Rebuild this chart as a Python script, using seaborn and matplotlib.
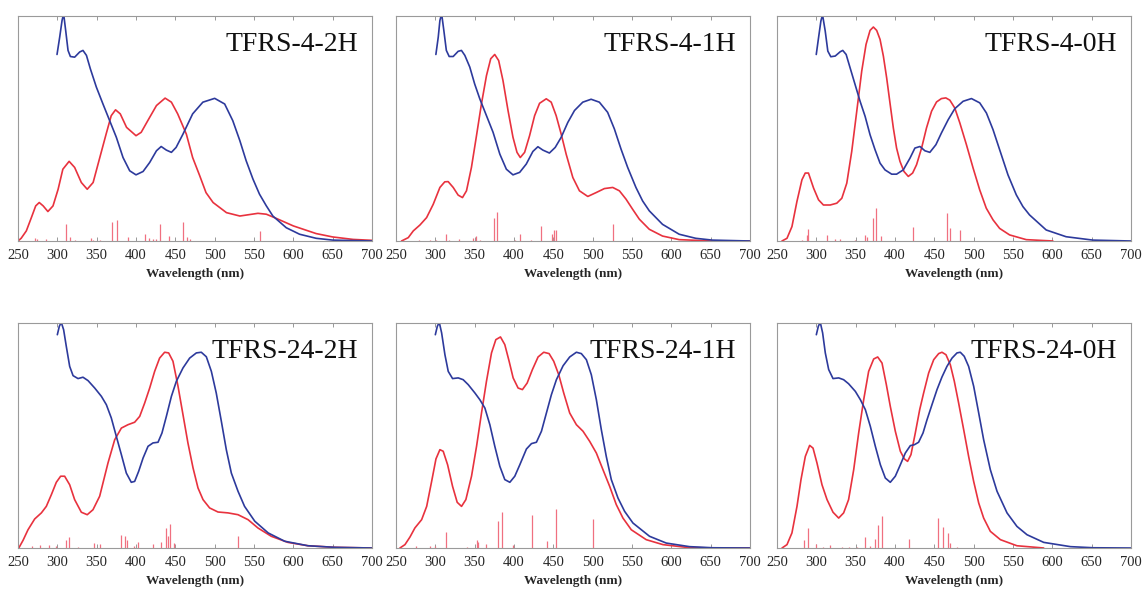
import numpy as np
import pandas as pd
import matplotlib
matplotlib.use("Agg")
import matplotlib.pyplot as plt
import seaborn as sns

# wavelength ticks
WL_TICKS = [250, 300, 350, 400, 450, 500, 550, 600, 650, 700]
TITLES = ["TFRS-4-2H", "TFRS-4-1H", "TFRS-4-0H",
          "TFRS-24-2H", "TFRS-24-1H", "TFRS-24-0H"]

# (wavelength nm, normalised intensity)

# ---- TFRS-4-2H ----
red_4_2h = [(250, 0), (254, 0.012), (260.6, 0.045), (267, 0.104), (272.5, 0.156), (277, 0.171),
            (282, 0.156), (288, 0.131), (294.5, 0.156), (301, 0.230), (307, 0.319), (315, 0.354),
            (322, 0.327), (330.5, 0.260), (338, 0.230), (345.5, 0.260), (354, 0.371), (362, 0.475),
            (368.5, 0.557), (374, 0.583), (380, 0.565), (388, 0.505), (400, 0.468), (406.6, 0.483),
            (415, 0.535), (426, 0.602), (437, 0.635), (445, 0.617), (453, 0.565), (464, 0.475),
            (472, 0.371), (481, 0.290), (489, 0.215), (498, 0.171), (515, 0.126), (532, 0.111),
            (555, 0.123), (565.7, 0.119), (578, 0.101), (600, 0.067), (629, 0.033), (650, 0.018),
            (676, 0.007), (700, 0.003)]
blue_4_2h = [(299.6, 0.829), (303, 0.906), (306, 0.980), (308, 1.010), (310.6, 0.936), (313.6, 0.847),
             (316.6, 0.820), (322, 0.817), (328.4, 0.840), (332.6, 0.847), (337, 0.825), (342, 0.765),
             (349.6, 0.684), (358, 0.609), (366.5, 0.535), (375, 0.461), (383.5, 0.371), (392, 0.312),
             (400, 0.294), (409, 0.309), (417.4, 0.349), (426, 0.401), (432, 0.420), (438.6, 0.404),
             (445, 0.394), (451, 0.416), (459.7, 0.475), (472, 0.565), (485, 0.617), (500, 0.634),
             (512.7, 0.609), (523, 0.535), (532, 0.446), (540, 0.357), (548.7, 0.275), (557, 0.208),
             (565.7, 0.156), (574, 0.111), (591, 0.059), (608, 0.030), (629, 0.012), (650, 0.004),
             (700, 0)]
sticks_4_2h = [(272, 0.012), (274.6, 0.008), (286, 0.008), (311, 0.077), (315.7, 0.018), (322, 0.006),
               (343, 0.012), (345, 0.006), (354, 0.006), (370, 0.085), (376, 0.094), (390, 0.018),
               (411, 0.030), (416, 0.012), (421, 0.010), (426, 0.010), (430, 0.074), (442, 0.021),
               (459.7, 0.085), (464.8, 0.018), (469, 0.010), (558, 0.045)]

# ---- TFRS-4-1H ----
red_4_1h = [(257, 0), (265.6, 0.015), (272, 0.045), (280.4, 0.071), (288.9, 0.104), (297.3, 0.163),
            (305.8, 0.238), (312, 0.263), (316.3, 0.264), (322.7, 0.238), (329, 0.204), (334.5, 0.193),
            (339.6, 0.223), (345.9, 0.327), (352, 0.461), (358.6, 0.609), (365, 0.735), (370.4, 0.810),
            (375.5, 0.829), (380.5, 0.802), (386, 0.713), (392.4, 0.580), (398.7, 0.461), (403.8, 0.394),
            (408, 0.371), (413.5, 0.394), (419.8, 0.468), (426.2, 0.557), (432.5, 0.612), (441, 0.632),
            (447.3, 0.617), (453.6, 0.557), (460, 0.475), (466.3, 0.386), (474.8, 0.282), (483.2, 0.223),
            (493.8, 0.198), (504.3, 0.215), (514.9, 0.233), (525.5, 0.238), (534, 0.223), (542.4, 0.186),
            (550.8, 0.141), (559.3, 0.097), (572, 0.052), (588.8, 0.022), (610, 0.006), (652, 0),
            (700, 0)]
blue_4_1h = [(300.7, 0.829), (303.7, 0.906), (305.8, 0.980), (308, 1.010), (310.8, 0.936), (314, 0.847),
             (317.6, 0.820), (322.7, 0.820), (329, 0.843), (333.2, 0.847), (337.5, 0.825), (343.8, 0.773),
             (350, 0.698), (356.5, 0.632), (365, 0.557), (373.4, 0.483), (382, 0.386), (390.3, 0.319),
             (398.7, 0.294), (407.2, 0.305), (415.6, 0.342), (424, 0.398), (430.4, 0.419), (436.7, 0.404),
             (445, 0.391), (452.4, 0.416), (460, 0.461), (468.4, 0.527), (476.9, 0.580), (487.4, 0.617),
             (498, 0.630), (508.5, 0.617), (519, 0.572), (527.6, 0.498), (536, 0.409), (544.5, 0.327),
             (555, 0.238), (563.5, 0.178), (572, 0.134), (588.8, 0.074), (610, 0.030), (631, 0.012),
             (652, 0.004), (700, 0)]
sticks_4_1h = [(279.6, 0.005), (293, 0.005), (300.7, 0.006), (314, 0.033), (318, 0.006), (330, 0.009),
               (348, 0.012), (352, 0.022), (356.5, 0.005), (374.2, 0.104), (378, 0.131), (401, 0.005),
               (408, 0.033), (422, 0.006), (434.6, 0.067), (448.6, 0.030), (450.7, 0.048),
               (452.8, 0.048), (525.5, 0.074)]

# ---- TFRS-4-0H ----
red_4_0h = [(256.3, 0), (262.7, 0.012), (269, 0.064), (275.3, 0.175), (281.7, 0.272), (285.9, 0.302),
            (290, 0.302), (296.5, 0.235), (302.8, 0.183), (309, 0.160), (317.6, 0.160), (326, 0.168),
            (332.4, 0.190), (338.7, 0.257), (345, 0.398), (351.4, 0.577), (357.7, 0.755), (363.2, 0.874),
            (368.3, 0.936), (372.5, 0.951), (376.7, 0.936), (381, 0.896), (385.2, 0.822), (389.4, 0.725),
            (393.6, 0.614), (397.9, 0.502), (402, 0.413), (406.3, 0.354), (411.4, 0.309), (416.9, 0.287),
            (422.4, 0.302), (427.4, 0.339), (433.8, 0.413), (440, 0.502), (446.5, 0.577), (452.8, 0.618),
            (459, 0.633), (464.6, 0.636), (469.7, 0.626), (476, 0.591), (482.4, 0.525), (490.8, 0.428),
            (499.3, 0.324), (507.7, 0.227), (516, 0.146), (524.6, 0.094), (533, 0.056), (545.7, 0.027),
            (566.9, 0.006), (600.7, 0)]
blue_4_0h = [(299.9, 0.829), (302.8, 0.903), (305.8, 0.978), (307.9, 1.005), (311.3, 0.933), (314.6, 0.844),
             (318.4, 0.819), (324, 0.822), (330.3, 0.841), (333.6, 0.847), (337.9, 0.829), (342.9, 0.770),
             (349.3, 0.695), (355.6, 0.621), (362, 0.554), (368.3, 0.472), (374.6, 0.406), (381, 0.346),
             (387.3, 0.316), (395.8, 0.297), (402, 0.297), (410.5, 0.316), (419, 0.368), (425.3, 0.413),
             (431.7, 0.420), (438, 0.401), (444.3, 0.394), (452, 0.428), (459, 0.480), (467.6, 0.539),
             (476, 0.588), (486.6, 0.621), (497.2, 0.633), (507.7, 0.614), (516.2, 0.569), (524.6, 0.495),
             (533, 0.406), (543.6, 0.294), (554.2, 0.205), (562.6, 0.153), (571, 0.116), (592.2, 0.049),
             (617.5, 0.019), (651.4, 0.004), (700, 0)]
sticks_4_0h = [(281.7, 0.006), (288, 0.027), (290, 0.053), (313, 0.027), (324, 0.009), (330, 0.008),
               (349, 0.006), (362, 0.027), (365, 0.019), (371.7, 0.104), (375.9, 0.146), (381.8, 0.024),
               (423, 0.064), (466, 0.126), (470.5, 0.056), (483.2, 0.048)]

# ---- TFRS-24-2H ----
red_24_2h = [(251, 0), (256.4, 0.034), (262.7, 0.081), (271.2, 0.129), (279.7, 0.156), (286, 0.185),
             (292.4, 0.237), (298.7, 0.292), (304.2, 0.319), (309.3, 0.319), (315.7, 0.281), (322, 0.215),
             (330.5, 0.159), (338, 0.148), (345.3, 0.170), (353.8, 0.230), (364.4, 0.378), (372.9, 0.481),
             (381.4, 0.533), (389.8, 0.548), (398.3, 0.559), (404.7, 0.585), (411, 0.644), (417.4, 0.711),
             (423.7, 0.785), (430, 0.844), (436.4, 0.870), (441.5, 0.867), (447, 0.830), (453.4, 0.719),
             (459.7, 0.593), (466, 0.467), (472.5, 0.356), (478.8, 0.267), (485.2, 0.215), (493.6, 0.178),
             (504.2, 0.160), (517, 0.156), (529.7, 0.148), (542.4, 0.126), (555, 0.089), (572, 0.052),
             (593, 0.025), (618.6, 0.010), (652.5, 0.003), (700, 0)]
blue_24_2h = [(300, 0.948), (302.5, 0.985), (305, 1.003), (308, 0.970), (311.4, 0.896), (315.7, 0.807),
              (320, 0.766), (326.3, 0.753), (332.6, 0.759), (339, 0.744), (347.5, 0.711), (356, 0.674),
              (362.3, 0.637), (368.6, 0.578), (375, 0.496), (381.4, 0.415), (387.7, 0.333), (394, 0.292),
              (398.3, 0.296), (403.4, 0.341), (409, 0.400), (415.3, 0.452), (421.6, 0.467), (428, 0.470),
              (433, 0.511), (438.6, 0.585), (445, 0.674), (451.3, 0.741), (459.7, 0.800), (468.2, 0.844),
              (476.7, 0.867), (483, 0.870), (489.4, 0.850), (495.8, 0.785), (502, 0.689), (508.5, 0.563),
              (514.8, 0.437), (521.2, 0.333), (529.7, 0.252), (538, 0.185), (551, 0.119), (568, 0.067),
              (589, 0.030), (618.6, 0.010), (652.5, 0.003), (700, 0)]
sticks_24_2h = [(267.8, 0.010), (277.5, 0.012), (290, 0.012), (298.7, 0.010), (310.6, 0.037),
                (314.8, 0.049), (326, 0.005), (346.6, 0.022), (354.7, 0.019), (381, 0.059),
                (385.6, 0.055), (388.6, 0.037), (397.5, 0.008), (402.5, 0.025), (421.6, 0.018),
                (432, 0.027), (438.6, 0.089), (440.7, 0.055), (443.6, 0.107), (448, 0.022),
                (529.7, 0.055)]

# ---- TFRS-24-1H ----
red_24_1h = [(255, 0), (261.4, 0.015), (267.8, 0.049), (274, 0.089), (282.6, 0.126), (289, 0.185),
             (295.3, 0.296), (300.8, 0.396), (305.8, 0.437), (310, 0.430), (315.6, 0.370), (321.9, 0.274),
             (327.8, 0.203), (333.3, 0.185), (338.8, 0.215), (346, 0.319), (352.4, 0.452), (358.7, 0.600),
             (365, 0.741), (371.4, 0.867), (376.9, 0.926), (382.8, 0.938), (388.3, 0.904), (393.8, 0.830),
             (398.9, 0.756), (405.2, 0.711), (410.7, 0.704), (416.7, 0.733), (423.4, 0.793), (430.6, 0.849),
             (437.8, 0.870), (444.6, 0.864), (450.5, 0.830), (456.9, 0.770), (463.2, 0.689), (470.8, 0.600),
             (479.3, 0.548), (487.7, 0.519), (496.2, 0.474), (504.7, 0.422), (513.1, 0.348), (521.6, 0.274),
             (530, 0.193), (538.5, 0.133), (549.1, 0.081), (568.1, 0.037), (589.3, 0.015), (618.9, 0.003),
             (652.7, 0), (700, 0)]
blue_24_1h = [(300, 0.948), (302.5, 0.985), (305, 1.003), (308, 0.956), (312.2, 0.859), (316.4, 0.785),
              (321.9, 0.753), (329.1, 0.756), (335.4, 0.748), (341.8, 0.726), (350.3, 0.689), (356.6, 0.659),
              (363, 0.622), (369.3, 0.548), (375.6, 0.452), (382, 0.363), (388.3, 0.304), (394.7, 0.292),
              (401, 0.319), (407.4, 0.370), (415.8, 0.440), (422.2, 0.464), (428.5, 0.470), (434.9, 0.519),
              (441.2, 0.600), (447.5, 0.681), (453.9, 0.748), (462.4, 0.810), (470.8, 0.849), (479.3, 0.870),
              (485.6, 0.864), (492, 0.837), (498.3, 0.770), (504.7, 0.659), (511, 0.526), (517.3, 0.407),
              (523.7, 0.304), (532.2, 0.222), (540.6, 0.163), (551.2, 0.111), (572.3, 0.052), (593.5, 0.022),
              (623.1, 0.006), (652.7, 0.001), (700, 0)]
sticks_24_1h = [(275.4, 0.010), (293, 0.010), (299.5, 0.010), (313, 0.070), (339.7, 0.005),
                (352.4, 0.037), (354.5, 0.025), (365, 0.018), (379.9, 0.119), (384.5, 0.159),
                (399, 0.015), (422.6, 0.148), (442, 0.030), (453, 0.175), (501, 0.129)]

# ---- TFRS-24-0H ----
red_24_0h = [(256.4, 0), (262.7, 0.015), (269, 0.067), (275.4, 0.185), (280.5, 0.304), (286, 0.407),
             (291.5, 0.456), (295.8, 0.444), (300.8, 0.378), (307.2, 0.281), (313.6, 0.215), (321.2, 0.159),
             (328.4, 0.133), (334.7, 0.156), (341, 0.215), (347.5, 0.348), (353.8, 0.511), (360.2, 0.659),
             (366.5, 0.785), (372.9, 0.840), (378, 0.849), (383.5, 0.822), (389, 0.726), (394, 0.630),
             (400.4, 0.519), (406.8, 0.430), (411.9, 0.396), (416, 0.385), (420.3, 0.415), (425.8, 0.511),
             (431.4, 0.615), (436.4, 0.689), (442.8, 0.778), (449.2, 0.837), (455.5, 0.864), (459.7, 0.870),
             (464.8, 0.859), (470.3, 0.815), (475.4, 0.741), (480.9, 0.644), (487.3, 0.526), (493.6, 0.407),
             (500, 0.296), (506.4, 0.200), (512.7, 0.133), (521.2, 0.074), (534, 0.037), (555, 0.010),
             (589, 0)]
blue_24_0h = [(300, 0.948), (302.5, 0.985), (305, 1.003), (308, 0.956), (311.4, 0.867), (315.7, 0.793),
              (321.2, 0.753), (328.4, 0.756), (334.7, 0.748), (341, 0.730), (349.6, 0.696), (356, 0.659),
              (362.3, 0.615), (368.6, 0.541), (375, 0.452), (381.4, 0.370), (387.7, 0.311), (394, 0.292),
              (400.4, 0.319), (406.8, 0.370), (413.1, 0.422), (419.5, 0.455), (424.6, 0.459), (430, 0.470),
              (435.6, 0.511), (440.7, 0.570), (447, 0.637), (453.4, 0.704), (459.7, 0.760), (466, 0.807),
              (472.5, 0.844), (478.8, 0.867), (483, 0.870), (488, 0.852), (493.6, 0.807), (500, 0.719),
              (506.4, 0.600), (512.7, 0.481), (521.2, 0.348), (529.7, 0.252), (542.4, 0.156), (555, 0.096),
              (567.8, 0.059), (589, 0.025), (623, 0.006), (652.5, 0.001), (700, 0)]
sticks_24_0h = [(284.7, 0.034), (289.4, 0.089), (300, 0.018), (309, 0.006), (317, 0.012), (332.6, 0.006),
                (342, 0.006), (351.7, 0.006), (361.9, 0.047), (367.8, 0.010), (375, 0.040),
                (379, 0.104), (383.5, 0.141), (417.4, 0.041), (454.7, 0.132), (461, 0.092),
                (468, 0.067), (470, 0.022), (478.8, 0.005)]

PANELS = [
    (red_4_2h, blue_4_2h, sticks_4_2h),
    (red_4_1h, blue_4_1h, sticks_4_1h),
    (red_4_0h, blue_4_0h, sticks_4_0h),
    (red_24_2h, blue_24_2h, sticks_24_2h),
    (red_24_1h, blue_24_1h, sticks_24_1h),
    (red_24_0h, blue_24_0h, sticks_24_0h),
]

RED = "#e8323e"
BLUE = "#2d3a9c"
STICK = "#f07080"

sns.set_theme(style="white")
plt.rcParams['font.family'] = ['Liberation Serif', 'DejaVu Serif']

fig = plt.figure(figsize=(11.43, 5.89), dpi=100)

W, H = 1143.0, 589.0
lefts = [18, 396, 777]
tops = [16, 323]
aw, ah = 354, 225

for i, (title, (red, blue, sticks)) in enumerate(zip(TITLES, PANELS)):
    r, c = divmod(i, 3)
    ax = fig.add_axes([lefts[c] / W, 1 - (tops[r] + ah) / H, aw / W, ah / H])

    df_red = pd.DataFrame(red, columns=["nm", "val"])
    df_blue = pd.DataFrame(blue, columns=["nm", "val"])
    df_st = pd.DataFrame(sticks, columns=["nm", "h"])

    ax.vlines(df_st["nm"], 0, df_st["h"], color=STICK, lw=0.9)
    sns.lineplot(data=df_red, x="nm", y="val", ax=ax, color=RED, lw=1.2, sort=False,
                 solid_joinstyle="round")
    sns.lineplot(data=df_blue, x="nm", y="val", ax=ax, color=BLUE, lw=1.2, sort=False,
                 solid_joinstyle="round")

    ax.set_xlim(250, 700)
    ax.set_ylim(0, 1)
    ax.set_xticks(WL_TICKS)
    ax.set_yticks([])
    ax.tick_params(axis="x", direction="in", length=3, width=0.6, color="#888888",
                   labelsize=10.5, pad=6, top=True, bottom=True)
    ax.set_xlabel("Wavelength (nm)", fontsize=9.5, fontweight="bold", labelpad=4)
    ax.set_ylabel("")
    for sp in ax.spines.values():
        sp.set_color("#9a9a9a")
        sp.set_linewidth(0.8)
    ax.text(0.96, 0.93, title, transform=ax.transAxes, ha="right", va="top",
            fontsize=20, color="#111111")

fig.savefig("out.png", dpi=100)
